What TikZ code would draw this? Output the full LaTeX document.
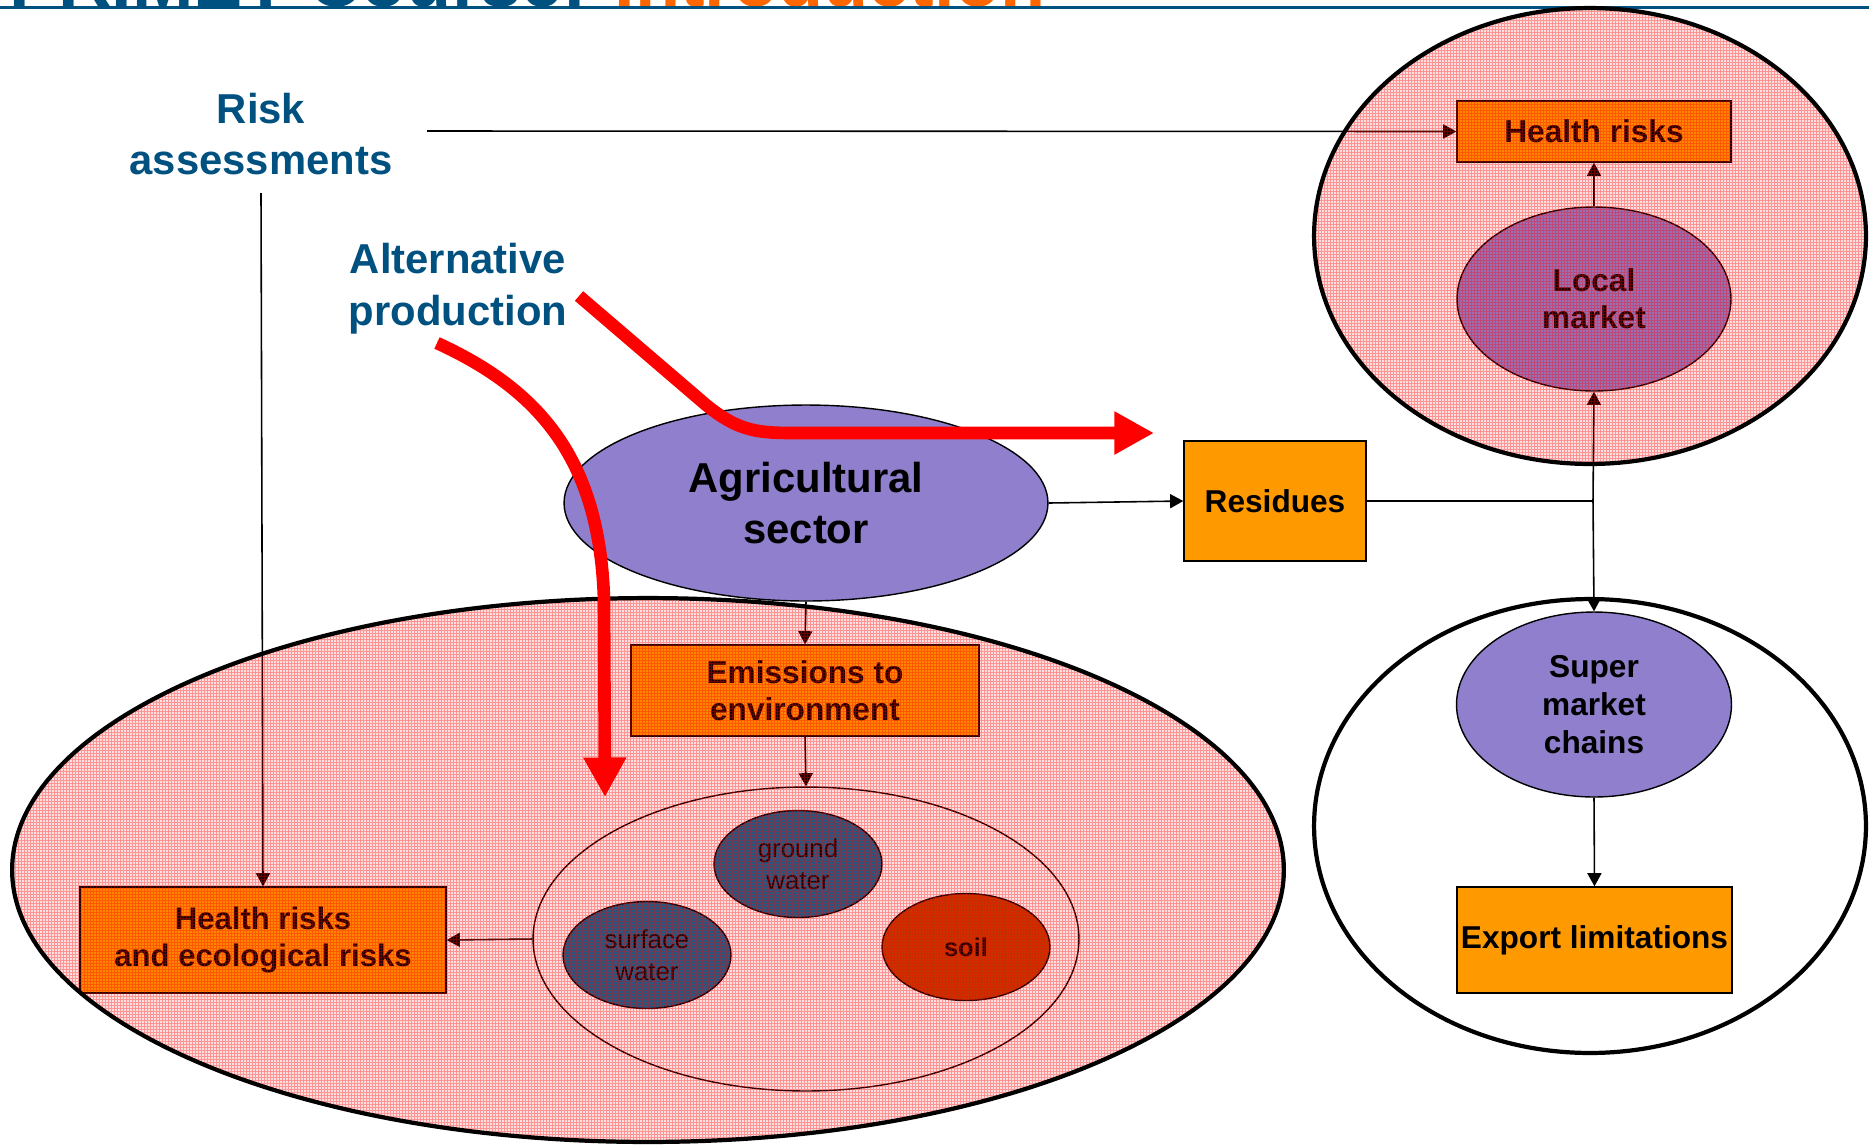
\documentclass[tikz,border=0pt]{standalone}
\usepackage{fontspec}
\setmainfont{Liberation Sans}
\usetikzlibrary{shapes.geometric,arrows.meta,patterns.meta}

\definecolor{tblue}{RGB}{0,80,128}
\definecolor{torange}{RGB}{255,102,0}
\definecolor{boxor}{RGB}{255,153,0}
\definecolor{purp}{RGB}{143,127,204}
\definecolor{wblue}{RGB}{10,100,145}
\definecolor{soilc}{RGB}{185,62,0}

\tikzdeclarepattern{
  name=finegrid,
  type=uncolored,
  bounding box={(0pt,0pt) and (1.7pt,1.7pt)},
  tile size={(1.7pt,1.7pt)},
  code={\draw[line width=0.6pt] (0pt,0.85pt) -- (1.7pt,0.85pt) (0.85pt,0pt) -- (0.85pt,1.7pt);}
}

\begin{document}
\begin{tikzpicture}[x=0.02cm,y=-0.02cm,
  box/.style={rectangle, draw=black, line width=0.8pt, fill=boxor, inner sep=0pt, align=center},
  oval/.style={ellipse, draw=black, line width=0.8pt, inner sep=0pt, align=center},
  bigoval/.style={ellipse, draw=black, line width=2.4pt, inner sep=0pt},
  overlaygrid/.style={pattern=finegrid, pattern color=red, fill opacity=0.42},
  conn/.style={draw=black, line width=0.9pt, -{Triangle[length=7.5pt,width=8pt]}},
  plain/.style={draw=black, line width=0.9pt},
  redarrow/.style={draw=red, line width=7.2pt, -{Triangle[length=22.5pt,width=23pt]}},
  bigtxt/.style={font=\fontsize{23.8}{29.5}\selectfont\bfseries},
  midtxt/.style={font=\fontsize{18}{21}\selectfont\bfseries},
  smalltxt/.style={font=\fontsize{14.7}{18}\selectfont},
  bluetxt/.style={bigtxt, text=tblue, align=center, inner sep=0pt}
]
\useasboundingbox (0,0) rectangle (1869,1144);
\clip (0,0) rectangle (1869,1144);

% title (cut off at the top)
\node[anchor=base west, inner sep=0pt, font=\fontsize{42}{42}\selectfont\bfseries, text=tblue]
  (title) at (9,6.5) {PRIMET Course: \textcolor{torange}{Introduction}};
\draw[tblue, line width=1.6pt] (0,7.5) -- (1869,7.5);

% free texts
\node[bluetxt] (risk) at (261,134) {Risk\\assessments};
\node[bluetxt] (alt) at (458,289) {Alternative\\production};

% central part
\node[oval, fill=purp, minimum width=9.68cm, minimum height=3.92cm, bigtxt] (agri) at (806,503) {Agricultural\\sector};
\node[box, minimum width=3.64cm, minimum height=2.4cm, midtxt] (res) at (1275,501) {Residues};

% top right
\node[box, minimum width=5.48cm, minimum height=1.22cm, midtxt] (hrT) at (1594,131.5) {Health risks};
\node[oval, fill=purp, minimum width=5.48cm, minimum height=3.68cm, midtxt] (local) at (1594,299) {Local\\market};

% bottom right
\node[oval, fill=purp, minimum width=5.5cm, minimum height=3.7cm, font=\fontsize{18}{21.5}\selectfont\bfseries] (super) at (1594,704.5) {Super\\market\\chains};
\node[box, minimum width=5.5cm, minimum height=2.12cm, font=\fontsize{18}{21}\selectfont\bfseries] (export) at (1594.5,940) {Export limitations};

% bottom left
\node[box, minimum width=6.96cm, minimum height=1.82cm, midtxt] (emis) at (805,690.5) {Emissions to\\environment};
\node[oval, minimum width=10.92cm, minimum height=6.08cm] (inner) at (806,939) {};
\node[oval, fill=wblue, minimum width=3.36cm, minimum height=2.14cm, smalltxt] (ground) at (798,864) {ground\\water};
\node[oval, fill=wblue, minimum width=3.36cm, minimum height=2.14cm, smalltxt] (surface) at (647,955) {surface\\water};
\node[oval, fill=soilc, minimum width=3.36cm, minimum height=2.14cm, font=\fontsize{14.5}{18}\selectfont\bfseries] (soil) at (966,947) {soil};
\node[box, minimum width=7.32cm, minimum height=2.12cm, font=\fontsize{17.7}{21}\selectfont\bfseries] (hb) at (263,940) {Health risks\\and ecological risks};

% connectors
\coordinate (rae) at (427,131);
\coordinate (ras) at (261,193);
\coordinate (junc) at (1593,501);
\draw[conn] (rae) -- (hrT.west);
\draw[conn] (ras) -- (hb.north);
\draw[conn] (agri.east) -- (res.west);
\draw[plain] (res.east) -- (junc);
\draw[conn] (junc) -- (local.south);
\draw[conn] (junc) -- (super.north);
\draw[conn] (local.north) -- (hrT.south);
\draw[conn] (super.south) -- (export.north);
\draw[conn] (agri.south) -- (emis.north);
\draw[conn] (emis.south) -- (inner.north);
\draw[conn] (inner.west) -- (hb.east);

% big containers with grid overlay
\node[bigoval, overlaygrid, minimum width=25.44cm, minimum height=10.88cm] (bigB) at (648,870) {};
\node[bigoval, overlaygrid, minimum width=11.04cm, minimum height=9.12cm] (topE) at (1590,236) {};
\node[bigoval, minimum width=11.04cm, minimum height=9.08cm] (botR) at (1590,826) {};

% red arrows
\coordinate (a1s) at (579,296);
\coordinate (a1e) at (1154,433);
\coordinate (a2s) at (437,343);
\coordinate (a2e) at (605,797);
\draw[redarrow] (a1s) -- (705,404) .. controls (740,433) and (760,433) .. (800,433) -- (a1e);
\draw[redarrow] (a2s) .. controls (540,390) and (600,460) .. (604,600) -- (a2e);
\end{tikzpicture}
\end{document}
